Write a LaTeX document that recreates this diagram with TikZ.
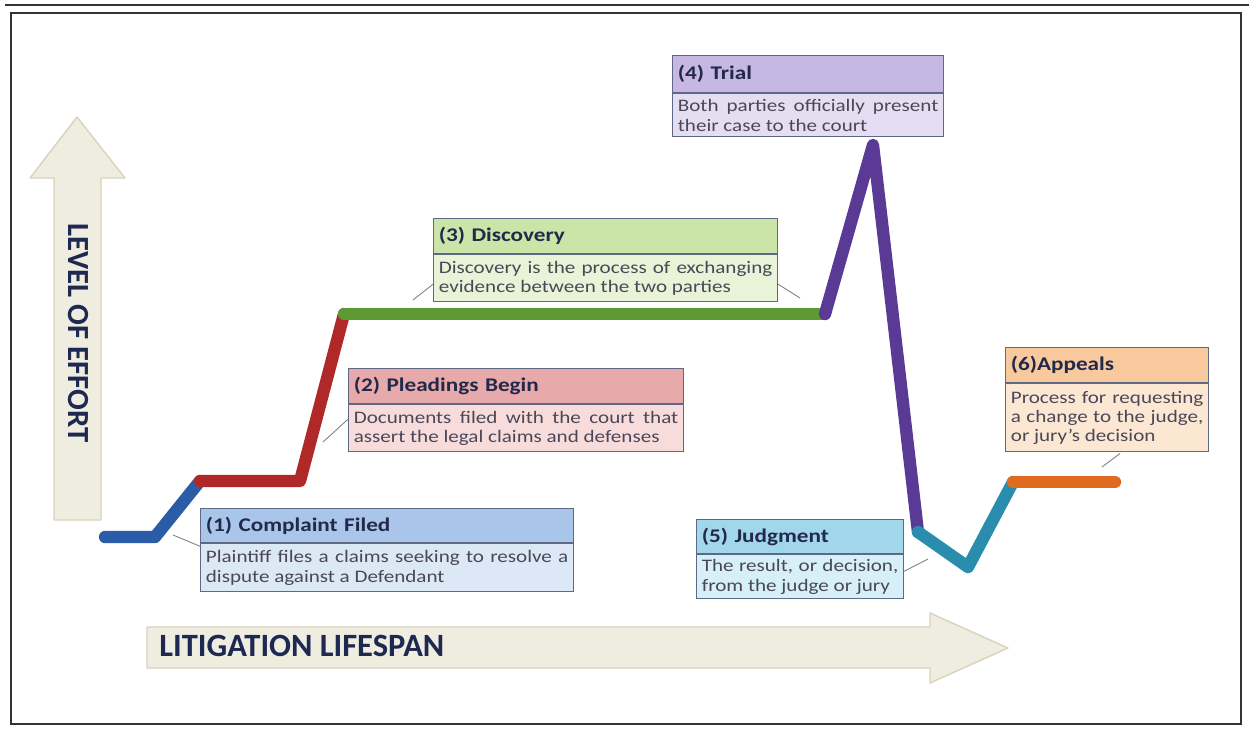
\documentclass[tikz,border=0pt]{standalone}
\usepackage{fontspec}
\setmainfont{Carlito}[FakeStretch=1.2]
\newfontfamily\axisfont{Carlito}
\usetikzlibrary{positioning,calc}

\definecolor{frameline}{HTML}{333333}
\definecolor{arrowfill}{HTML}{EFEDE0}
\definecolor{arrowedge}{HTML}{D8D3BC}
\definecolor{axistext}{HTML}{1D2951}
\definecolor{boxline}{HTML}{5E6A85}
\definecolor{titletext}{HTML}{22294A}
\definecolor{bodytext}{HTML}{4A4858}
\definecolor{leadgray}{HTML}{808080}
\definecolor{stblue}{HTML}{2A5CA8}
\definecolor{stred}{HTML}{B02828}
\definecolor{stgreen}{HTML}{5E9A34}
\definecolor{stpurple}{HTML}{5A3A94}
\definecolor{stteal}{HTML}{2A8DAD}
\definecolor{storange}{HTML}{DF6A20}
\definecolor{hblue}{HTML}{A9C5EA}  \definecolor{bblue}{HTML}{DCE8F6}
\definecolor{hred}{HTML}{E8A9AA}   \definecolor{bred}{HTML}{F8DCDC}
\definecolor{hgreen}{HTML}{CBE4A8} \definecolor{bgreen}{HTML}{E8F3D7}
\definecolor{hpurple}{HTML}{C6B8E2} \definecolor{bpurple}{HTML}{E5DEF2}
\definecolor{hteal}{HTML}{A2D6EB}  \definecolor{bteal}{HTML}{D6EFF8}
\definecolor{horange}{HTML}{F8C99D} \definecolor{borange}{HTML}{FCE7D3}

\begin{document}
\begin{tikzpicture}[x=0.02cm,y=-0.02cm,
    stage/.style={line width=7pt,line cap=round,line join=round},
    head/.style={draw=boxline,line width=0.7pt,anchor=north west,inner xsep=3pt,inner ysep=1pt,align=left,text=titletext,font=\bfseries\fontsize{11}{12}\selectfont},
    body/.style={draw=boxline,line width=0.7pt,inner xsep=3pt,inner ysep=1pt,align=justify,text=bodytext,font=\fontsize{10}{11}\selectfont},
    leader/.style={draw=leadgray,line width=0.5pt},
    bigarrow/.style={fill=arrowfill,draw=arrowedge,line width=0.8pt,line join=round}]

    \useasboundingbox (0,0) rectangle (1249,728);

    % page rule and frame
    \draw[frameline,line width=1pt] (5,5) -- (1249,5);
    \draw[frameline,line width=1.4pt] (11,13) rectangle (1241,724);

    % axes
    \draw[bigarrow] (54,520) -- (54,178) -- (30,178) -- (77,117) -- (125,178) -- (101,178) -- (101,520) -- cycle;
    \draw[bigarrow] (147,627) -- (930,627) -- (930,613) -- (1008,648) -- (930,683) -- (930,668) -- (147,668) -- cycle;
    \node[rotate=-90,text=axistext,font=\axisfont\bfseries\fontsize{17.5}{17.5}\selectfont] (effort) at (78,333) {LEVEL OF EFFORT};
    \node[anchor=west,inner sep=0pt,text=axistext,font=\axisfont\bfseries\fontsize{18.5}{18.5}\selectfont] (lifespan) at (159,646) {LITIGATION LIFESPAN};

    % the effort curve
    \coordinate (p0) at (105,537);
    \coordinate (p1) at (155,537);
    \coordinate (p2) at (200,481);
    \coordinate (p3) at (300,481);
    \coordinate (p4) at (344,314);
    \coordinate (p5) at (825,314);
    \coordinate (p6) at (873,145);
    \coordinate (p7) at (918,532);
    \coordinate (p8) at (968,567);
    \coordinate (p9) at (1013,482);
    \coordinate (p10) at (1115,482);

    \draw[stage,stblue] (p0) -- (p1) -- (p2);
    \draw[stage,stred] (p2) -- (p3) -- (p4);
    \draw[stage,stgreen] (p4) -- (p5);
    \draw[stage,stpurple] (p5) -- (p6) -- (p7);
    \draw[stage,stteal] (p7) -- (p8) -- (p9);
    \draw[stage,storange] (p9) -- (p10);

    % stage boxes
    \node[head,fill=hblue,text width=7.25cm,minimum width=7.46cm,minimum height=0.68cm] (c1h) at (200,508) {(1) Complaint Filed};
    \node[body,fill=bblue,text width=7.25cm,minimum height=0.96cm,below=0pt of c1h] (c1b) {Plaintiff files a claims seeking to resolve a\linebreak dispute against a Defendant};

    \node[head,fill=hred,text width=6.49cm,minimum width=6.70cm,minimum height=0.70cm] (c2h) at (348,368) {(2) Pleadings Begin};
    \node[body,fill=bred,text width=6.49cm,minimum height=0.94cm,below=0pt of c2h] (c2b) {Documents filed with the court that\linebreak assert the legal claims and defenses};

    \node[head,fill=hgreen,text width=6.67cm,minimum width=6.88cm,minimum height=0.70cm] (c3h) at (433,218) {(3) Discovery};
    \node[body,fill=bgreen,text width=6.67cm,minimum height=0.94cm,below=0pt of c3h] (c3b) {Discovery is the process of exchanging\linebreak evidence between the two parties};

    \node[head,fill=hpurple,text width=5.21cm,minimum width=5.42cm,minimum height=0.74cm] (c4h) at (672,55) {(4) Trial};
    \node[body,fill=bpurple,text width=5.21cm,minimum height=0.86cm,below=0pt of c4h] (c4b) {Both parties officially present\linebreak their case to the court};

    \node[head,fill=hteal,text width=3.93cm,minimum width=4.14cm,minimum height=0.68cm] (c5h) at (696,519) {(5) Judgment};
    \node[body,fill=bteal,text width=3.93cm,minimum height=0.88cm,below=0pt of c5h] (c5b) {The result, or decision,\linebreak from the judge or jury};

    \node[head,fill=horange,text width=3.85cm,minimum width=4.06cm,minimum height=0.70cm] (c6h) at (1005,347) {(6)Appeals};
    \node[body,fill=borange,text width=3.85cm,minimum height=1.36cm,below=0pt of c6h] (c6b) {Process for requesting\linebreak a change to the judge,\linebreak or jury’s decision};

    % leaders
    \coordinate (l1) at (173,535);
    \coordinate (l2) at (323,442);
    \coordinate (l3a) at (413,300);
    \coordinate (l3b) at (800,298);
    \coordinate (l5) at (928,559);
    \coordinate (l6) at (1102,467);

    \draw[leader] ($(c1b.north west)+(0,3)$) -- (l1);
    \draw[leader] ($(c2b.north west)+(0,15)$) -- (l2);
    \draw[leader] ($(c3b.north west)+(0,30)$) -- (l3a);
    \draw[leader] ($(c3b.north east)+(0,30)$) -- (l3b);
    \draw[leader] ($(c5b.north east)+(0,17)$) -- (l5);
    \draw[leader] ($(c6b.south)+(13,1)$) -- (l6);

\end{tikzpicture}
\end{document}
